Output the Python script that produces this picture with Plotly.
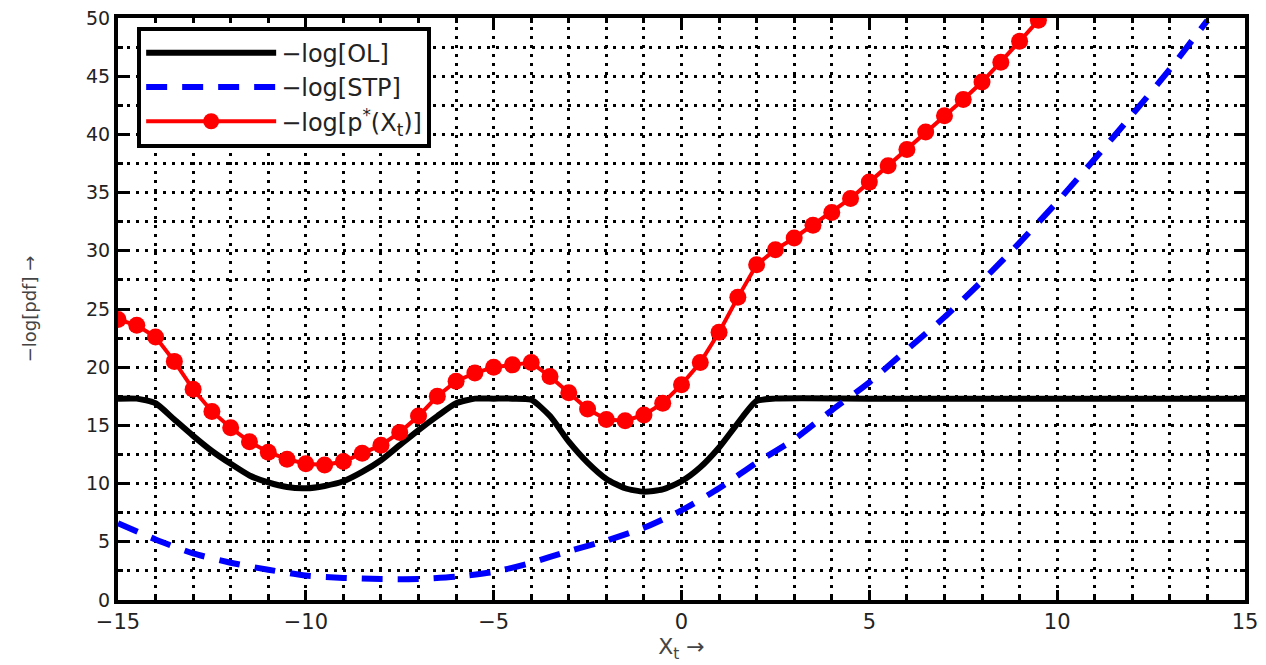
import plotly.graph_objects as go

# -log[OL]
x_ol = [-15, -14.5, -14, -13.5, -13, -12.5, -12, -11.5, -11, -10.5, -10, -9.5, -9, -8.5, -8,
        -7.5, -7, -6.5, -6, -5.5, -5, -4.5, -4, -3.5, -3, -2.5, -2, -1.5, -1, -0.5, 0, 0.5,
        1, 1.5, 2, 2.5, 5, 10, 15]
y_ol = [17.3, 17.3, 16.9, 15.5, 14.1, 12.8, 11.7, 10.7, 10.1, 9.7, 9.6, 9.8, 10.2, 11.0, 12.0,
        13.3, 14.6, 15.8, 16.9, 17.3, 17.3, 17.3, 17.2, 15.8, 13.6, 11.8, 10.4, 9.6, 9.3, 9.5,
        10.2, 11.4, 13.1, 15.2, 17.1, 17.3, 17.3, 17.3, 17.3]

# -log[STP]
x_stp = list(range(-15, 15))
y_stp = [6.6, 5.2, 4.0, 3.2, 2.6, 2.1, 1.9, 1.8, 1.8, 2.0, 2.4, 3.2, 4.2, 5.1, 6.2, 7.7,
         9.6, 11.8, 13.8, 16.3, 18.7, 21.5, 24.3, 27.4, 30.7, 34.2, 37.9, 41.7, 45.6, 49.8]

# -log[p*(X_t)]
x_p = [-15 + 0.5 * i for i in range(50)]
y_p = [24.1, 23.6, 22.6, 20.5, 18.1, 16.2, 14.8, 13.6, 12.7, 12.1, 11.7, 11.6, 11.9, 12.6,
       13.3, 14.4, 15.8, 17.5, 18.8, 19.5, 20.0, 20.2, 20.4, 19.2, 17.8, 16.4, 15.5, 15.4,
       15.9, 16.9, 18.5, 20.4, 23.0, 26.0, 28.8, 30.1, 31.1, 32.2, 33.3, 34.5, 35.9, 37.3,
       38.7, 40.2, 41.6, 43.0, 44.5, 46.2, 48.0, 49.8]

x_ticks = [-15, -10, -5, 0, 5, 10, 15]
x_ticklabels = ["\u221215", "\u221210", "\u22125", "0", "5", "10", "15"]
y_ticks = [0, 5, 10, 15, 20, 25, 30, 35, 40, 45, 50]

FONT = "DejaVu Sans, Liberation Sans, Arial, sans-serif"
GRID_DASH = "3px,6px"

fig = go.Figure()
fig.add_trace(go.Scatter(x=x_ol, y=y_ol, mode="lines", name="\u2212log[OL]",
                         line=dict(color="black", width=6, shape="spline", smoothing=0.6)))
fig.add_trace(go.Scatter(x=x_stp, y=y_stp, mode="lines", name="\u2212log[STP]",
                         line=dict(color="#0000ff", width=6, dash="21px,15px",
                                   shape="spline", smoothing=0.6)))
fig.add_trace(go.Scatter(x=x_p, y=y_p, mode="lines+markers",
                         name="\u2212log[p<sup>*</sup>(X<sub>t</sub>)]",
                         line=dict(color="#ff0000", width=4),
                         marker=dict(color="#ff0000", size=17, symbol="circle")))

axis_common = dict(
    showline=True, linecolor="black", linewidth=4, mirror="allticks",
    ticks="inside", ticklen=10, tickwidth=3, tickcolor="black",
    showgrid=True, gridcolor="black", gridwidth=3, griddash=GRID_DASH,
    zeroline=False, automargin=False, ticklabeloverflow="allow",
)

fig.update_xaxes(
    range=[-15, 15], tickvals=x_ticks, ticktext=x_ticklabels,
    tickfont=dict(family=FONT, size=21, color="#222"),
    minor=dict(dtick=1, tick0=0, ticks="inside", ticklen=5, tickcolor="black", tickwidth=3,
               showgrid=True, gridcolor="black", gridwidth=3, griddash=GRID_DASH),
    title=dict(text="X<sub>t</sub> \u2192", standoff=4,
               font=dict(family=FONT, size=22, color="#444")),
    **axis_common)
fig.update_yaxes(
    range=[0, 50], tickvals=y_ticks,
    tickfont=dict(family=FONT, size=19, color="#222"),
    minor=dict(dtick=2.5, tick0=0, ticks="inside", ticklen=5, tickcolor="black", tickwidth=3,
               showgrid=True, gridcolor="black", gridwidth=3, griddash=GRID_DASH),
    title=dict(text="\u2212log[pdf] \u2192", standoff=46,
               font=dict(family=FONT, size=18, color="#444")),
    **axis_common)

fig.update_layout(
    width=1258, height=657,
    margin=dict(l=110, r=21, t=10, b=65),
    plot_bgcolor="white", paper_bgcolor="white",
    legend=dict(x=0.017, y=0.985, xanchor="left", yanchor="top",
                bgcolor="white", bordercolor="black", borderwidth=4,
                itemwidth=130, tracegroupgap=0,
                font=dict(family=FONT, size=24, color="#222")),
)

fig.write_html("out.html")
